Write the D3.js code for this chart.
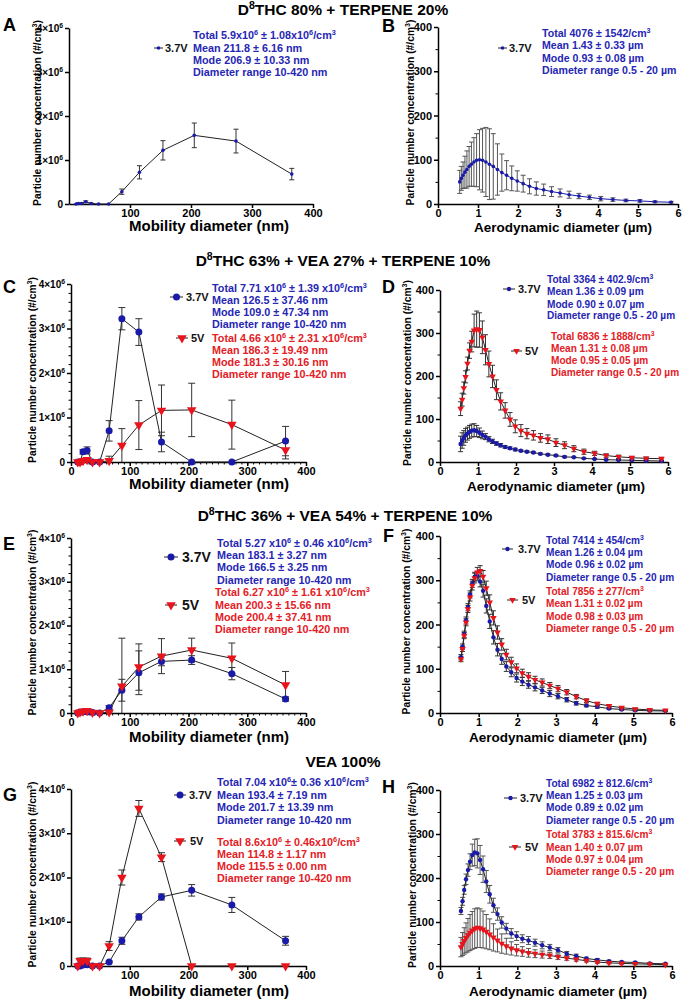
<!DOCTYPE html>
<html><head><meta charset="utf-8">
<script src="https://cdn.jsdelivr.net/npm/d3@7"></script>
<style>
body{margin:0;background:#fff}
text{font-family:"Liberation Sans",Arial,sans-serif;font-weight:bold}
</style>
</head><body>
<svg id="c" width="683" height="1000"></svg>
<script>
// ---------- DATA ----------
const mobBins = [11.5, 15.4, 20.5, 27.4, 36.5, 48.7, 64.9, 86.6, 115.5, 154.0, 205.4, 273.8, 365.2]; // nm
const aeroBins = [0.542,0.583,0.626,0.673,0.723,0.777,0.835,0.898,0.965,1.037,1.114,1.197,1.286,1.382,1.486,1.596,1.715,1.843,1.981,2.129,2.288,2.458,2.642,2.839,3.051,3.278,3.523,3.786,4.068,4.371,4.698,5.048,5.425,5.829]; // µm

// mobility panels, values in 10^6 #/cm3
const aMean37 = [0,0.01,0.01,0.05,0.01,0,0,0.28,0.72,1.22,1.56,1.43,0.68];
const aSd37   = [0,0.01,0.01,0.02,0.01,0,0,0.06,0.15,0.22,0.28,0.27,0.13];
const cMean37 = [0,0,0.23,0.26,0,0,0.70,3.22,2.92,0.45,0,0,0.47];
const cSd37   = [0,0,0.05,0.08,0,0,0.23,0.25,0.30,0.22,0,0,0.33];
const cMean5  = [0,0,0.03,0.05,0,0,0.03,0.37,0.83,1.16,1.17,0.84,0.27];
const cSd5    = [0,0,0.02,0.03,0,0,0.10,0.38,0.55,0.57,0.60,0.55,0.20];
const eMean37 = [0,0.02,0.03,0.03,0.01,0,0.12,0.52,0.92,1.18,1.21,0.90,0.32];
const eSd37   = [0,0.01,0.02,0.02,0.01,0,0.05,0.25,0.50,0.10,0.10,0.14,0.05];
const eMean5  = [0,0.02,0.04,0.05,0.01,0,0.02,0.61,1.05,1.30,1.44,1.25,0.64];
const eSd5    = [0,0.01,0.03,0.04,0.01,0,0.02,1.10,0.53,0.40,0.27,0.35,0.31];
const gMean37 = [0,0,0.02,0.03,0,0,0.09,0.57,1.11,1.56,1.71,1.38,0.57];
const gSd37   = [0,0,0.01,0.02,0,0,0.02,0.08,0.07,0.07,0.13,0.17,0.10];
const gMean5  = [0,0.12,0.12,0.12,0,0,0.45,2.00,3.56,2.46,0,0,0];
const gSd5    = [0,0.06,0.06,0.06,0,0,0.10,0.17,0.18,0.10,0,0,0];

// aerodynamic panels, #/cm3
const bMean37 = [50,58,65,72,78,85,90,95,99,100,99,95,90,85,78,71,65,58,52,46,40,35,32,28,25,21,18,15,12,10,8,7,5,4];
const bSd37   = [26,27,30,36,42,45,50,55,60,68,72,78,80,74,58,42,33,28,23,19,17,15,13,11,9,8,6,5,5,4,3,3,2,2];
const dMean37 = [42,50,56,62,66,70,73,74,72,68,63,59,53,48,43,39,35,32,29,26,24,22,19,17,15,12,11,8.5,7,5.4,4.6,3.9,3,2.3];
const dSd37   = [18,18,17,16,15,15,15,15,13,11,9,7,6,5,4,4,3,3,3,2,2,2,2,2,2,2,1,1,1,1,1,1,1,1];
const dMean5  = [124,145,172,198,229,259,280,306,309,307,290,261,228,199,168,141,120,99,83,73,66,62,56,53,45,39,31,24,20,15,12,10,8.5,7.7];
const dSd5    = [16,15,14,14,15,18,24,38,42,40,38,35,30,26,23,20,18,16,15,14,12,11,10,10,9,8,7,6,5,4,4,3,3,3];
const fMean37 = [126,150,178,209,239,268,293,308,310,297,276,242,207,171,143,122,105,92,79,71,64,58,51,44,38,30,22,17,14,10,8,6,5,4.5];
const fSd37   = [6,6,7,8,8,8,9,10,10,12,14,16,16,15,14,12,11,10,9,9,8,8,7,7,6,5,4,3,3,2,2,2,1,1];
const fMean5  = [122,145,175,205,235,262,288,305,318,321,308,282,250,215,182,155,132,115,101,90,82,75,69,62,55,47,37,28,21,16,12,9,7,6];
const fSd5    = [6,6,7,8,8,9,10,11,11,12,14,16,17,16,15,13,12,11,10,9,9,8,8,7,7,6,5,4,3,3,2,2,1,1];
const hMean37 = [125,147,173,197,218,237,252,258,256,241,220,192,163,138,118,99,85,74,68,62,58,53,47,42,36,28,23,17,14,11,9,8,6,5];
const hSd37   = [8,9,10,12,14,18,25,30,33,33,30,25,20,16,14,13,12,11,10,9,9,8,8,7,6,5,4,3,3,2,2,2,1,1];
const hMean5  = [43,50,57,64,70,76,81,85,87,86,83,78,72,65,58,51,45,40,36,33,30,28,26,24,21,18,15,12,9,7,6,5,4,3];
const hSd5    = [22,26,30,34,38,41,43,45,45,44,42,39,35,31,26,22,18,15,13,11,10,9,8,7,6,5,4,3,3,2,2,2,1,1];

// tick values
const mobTicksA = [100,200,300,400];
const mobTicksC = [0,100,200,300,400];
const mobYTicks = [0,1,2,3,4];
const aeroXTicks = [0,1,2,3,4,5,6];
const aeroYTicks = [0,100,200,300,400];

// texts
const titles = ["D^{8}THC 80% + TERPENE 20%","D^{8}THC 63% + VEA 27% + TERPENE 10%","D^{8}THC 36% + VEA 54% + TERPENE 10%","VEA 100%"];
const yLabel = "Particle number concentration (#/cm^{3})";
const xLabelMob = "Mobility diameter (nm)";
const xLabelAero = "Aerodynamic diameter (µm)";
const legA37 = ["Total 5.9x10^{6} ± 1.08x10^{6}/cm^{3}","Mean 211.8 ± 6.16 nm","Mode 206.9 ± 10.33 nm","Diameter range 10-420 nm"];
const legB37 = ["Total 4076 ± 1542/cm^{3}","Mean 1.43 ± 0.33 µm","Mode 0.93 ± 0.08 µm","Diameter range 0.5 - 20 µm"];
const legC37 = ["Total 7.71 x10^{6} ± 1.39 x10^{6}/cm^{3}","Mean 126.5 ± 37.46 nm","Mode 109.0 ± 47.34 nm","Diameter range 10-420 nm"];
const legC5  = ["Total 4.66 x10^{6} ± 2.31 x10^{6}/cm^{3}","Mean 186.3 ± 19.49 nm","Mode 181.3 ± 30.16 nm","Diameter range 10-420 nm"];
const legD37 = ["Total 3364 ± 402.9/cm^{3}","Mean 1.36 ± 0.09 µm","Mode 0.90 ± 0.07 µm","Diameter range 0.5 - 20 µm"];
const legD5  = ["Total 6836 ± 1888/cm^{3}","Mean 1.31 ± 0.08 µm","Mode 0.95 ± 0.05 µm","Diameter range 0.5 - 20 µm"];
const legE37 = ["Total 5.27 x10^{6} ± 0.46 x10^{6}/cm^{3}","Mean 183.1 ± 3.27 nm","Mode 166.5 ± 3.25 nm","Diameter range 10-420 nm"];
const legE5  = ["Total 6.27 x10^{6} ± 1.61 x10^{6}/cm^{3}","Mean 200.3 ± 15.66 nm","Mode 200.4 ± 37.41 nm","Diameter range 10-420 nm"];
const legF37 = ["Total 7414 ± 454/cm^{3}","Mean 1.26 ± 0.04 µm","Mode 0.96 ± 0.02 µm","Diameter range 0.5 - 20 µm"];
const legF5  = ["Total 7856 ± 277/cm^{3}","Mean 1.31 ± 0.02 µm","Mode 0.98 ± 0.03 µm","Diameter range 0.5 - 20 µm"];
const legG37 = ["Total 7.04 x10^{6}± 0.36 x10^{6}/cm^{3}","Mean 193.4 ± 7.19 nm","Mode 201.7 ± 13.39 nm","Diameter range 10-420 nm"];
const legG5  = ["Total 8.6x10^{6} ± 0.46x10^{6}/cm^{3}","Mean 114.8 ± 1.17 nm","Mode 115.5 ± 0.00 nm","Diameter range 10-420 nm"];
const legH37 = ["Total 6982 ± 812.6/cm^{3}","Mean 1.25 ± 0.03 µm","Mode 0.89 ± 0.02 µm","Diameter range 0.5 - 20 µm"];
const legH5  = ["Total 3783 ± 815.6/cm^{3}","Mean 1.40 ± 0.07 µm","Mode 0.97 ± 0.04 µm","Diameter range 0.5 - 20 µm"];

// ---------- STYLE ----------
const COL = {blue:"#1a1aa8", red:"#e8141c"};
const TXT = {blue:"#2626b4", red:"#e42026"};
const svg = d3.select("#c");

function addRich(sel, str, fs) {
  const re = /\^\{([^}]*)\}/g;
  let last = 0, m, down = false;
  const sh = fs * 0.38;
  while ((m = re.exec(str))) {
    if (m.index > last) {
      const t = sel.append("tspan").text(str.slice(last, m.index));
      if (down) { t.attr("dy", sh); down = false; }
    }
    const s = sel.append("tspan").attr("font-size", fs * 0.68).text(m[1]);
    s.attr("dy", down ? 0 : -sh);
    down = true; last = re.lastIndex;
  }
  if (last < str.length) {
    const t = sel.append("tspan").text(str.slice(last));
    if (down) t.attr("dy", sh);
  }
}

function txt(x, y, str, fs, opts = {}) {
  const t = svg.append("text").attr("x", x).attr("y", y).attr("font-size", fs)
    .attr("fill", opts.fill || "#000").attr("text-anchor", opts.anchor || "start");
  if (opts.rotate) t.attr("transform", `rotate(-90,${x},${y})`);
  addRich(t, str, fs);
  return t;
}

function marker(g, shape, cx, cy, r, color) {
  if (shape === "circle") {
    g.append("circle").attr("cx", cx).attr("cy", cy).attr("r", r).attr("fill", color);
  } else {
    g.append("path").attr("d", d3.symbol().type(d3.symbolTriangle).size(r * r * 3.2)())
      .attr("transform", `translate(${cx},${cy}) rotate(180)`).attr("fill", color);
  }
}

function panel(p) {
  const g = svg.append("g");
  const mob = p.kind === "mob";
  const x = d3.scaleLinear().domain(mob ? [0, 400] : [0, 6]).range([p.x0, p.x1]);
  const y = d3.scaleLinear().domain(mob ? [0, 4] : [0, 400]).range([p.yBot, p.yTop]);

  if (p.minorX) {
    g.append("g").attr("transform", `translate(0,${p.yBot})`)
      .call(d3.axisBottom(x).tickValues(d3.range(0, 401, 10)).tickSize(2.5).tickFormat(""))
      .call(a => a.select(".domain").remove())
      .call(a => a.selectAll("line").attr("stroke-width", 1));
  }
  if (p.minorY) {
    g.append("g").attr("transform", `translate(${p.x0},0)`)
      .call(d3.axisLeft(y).tickValues(p.minorY).tickSize(2.5).tickFormat(""))
      .call(a => a.select(".domain").remove())
      .call(a => a.selectAll("line").attr("stroke-width", 1));
  }
  const xa = g.append("g").attr("transform", `translate(0,${p.yBot})`)
    .call(d3.axisBottom(x).tickValues(p.xTicks).tickFormat(d3.format("d")).tickSize(4).tickSizeOuter(0).tickPadding(1));
  xa.selectAll("text").attr("font-size", p.xtfs).attr("fill", "#000")
    .style("font-family", '"Liberation Sans",Arial,sans-serif').style("font-weight", "bold");
  const ya = g.append("g").attr("transform", `translate(${p.x0},0)`)
    .call(d3.axisLeft(y).tickValues(mob ? mobYTicks : aeroYTicks).tickFormat(d3.format("d")).tickSize(4).tickSizeOuter(0).tickPadding(2));
  ya.selectAll("text").attr("font-size", p.ytfs).attr("fill", "#000")
    .style("font-family", '"Liberation Sans",Arial,sans-serif').style("font-weight", "bold")
    .each(function (d) {
      if (mob) {
        const t = d3.select(this); t.text(null);
        addRich(t, d === 0 ? "0" : d + "×10^{6}", p.ytfs);
      }
    });
  [xa, ya].forEach(a => {
    a.select(".domain").attr("stroke", "#000").attr("stroke-width", 1.5);
    a.selectAll(".tick line").attr("stroke", "#000").attr("stroke-width", 1.5);
  });

  const maxV = mob ? 4 : 400;
  p.series.forEach(s => {
    s.m.forEach((mv, i) => {
      const sd = s.sd[i];
      if (!sd) return;
      const xv = x(s.xs[i]);
      const hi = Math.min(maxV, mv + sd), lo = Math.max(0, mv - sd);
      g.append("line").attr("x1", xv).attr("x2", xv).attr("y1", y(lo)).attr("y2", y(hi))
        .attr("stroke", p.ebc || "#333").attr("stroke-width", 1);
      g.append("line").attr("x1", xv - p.cap).attr("x2", xv + p.cap).attr("y1", y(hi)).attr("y2", y(hi))
        .attr("stroke", p.ebc || "#333").attr("stroke-width", 1);
      if (mv - sd >= 0)
        g.append("line").attr("x1", xv - p.cap).attr("x2", xv + p.cap).attr("y1", y(lo)).attr("y2", y(lo))
          .attr("stroke", p.ebc || "#333").attr("stroke-width", 1);
    });
  });
  p.series.forEach(s => {
    const line = d3.line().x((d, i) => x(s.xs[i])).y(d => y(d));
    g.append("path").attr("d", line(s.m)).attr("fill", "none")
      .attr("stroke", s.lc || "#222").attr("stroke-width", 1);
  });
  p.series.forEach(s => {
    s.m.forEach((mv, i) => marker(g, s.shape, x(s.xs[i]), y(mv), s.r, COL[s.c]));
  });

  txt(p.letter[0], p.letter[1], p.id, 18);
  const yc = (p.yTop + p.yBot) / 2 - 3;
  txt(p.ylab, yc, yLabel, 10.3, {anchor: "middle", rotate: true});
  txt(p.xlab[0], p.xlab[1], mob ? xLabelMob : xLabelAero, p.xlfs, {anchor: "middle"});

  p.series.forEach(s => {
    const L = s.leg;
    g.append("line").attr("x1", L.sym[0]).attr("x2", L.sym[1]).attr("y1", L.sym[2]).attr("y2", L.sym[2])
      .attr("stroke", "#222").attr("stroke-width", 1);
    marker(g, s.shape, (L.sym[0] + L.sym[1]) / 2, L.sym[2], s.r, COL[s.c]);
    txt(L.lab[0], L.lab[1], L.lab[2], L.lab[3], {fill: "#111"});
    s.lines.forEach((str, k) => txt(L.tx, L.ty[k], str, p.lfs, {fill: TXT[s.c]}));
  });
}

txt(343, 15, titles[0], 15.5, {anchor: "middle"});
txt(343, 266, titles[1], 15.5, {anchor: "middle"});
txt(345, 521, titles[2], 15.5, {anchor: "middle"});
txt(343, 767, titles[3], 15.5, {anchor: "middle"});

const minorMobY = d3.range(0.2, 4, 0.2).filter(v => Math.abs(v - Math.round(v)) > 0.01);
const minorAeroY = [50,150,250,350];

const panels = [
  {id:"A", kind:"mob", x0:69, x1:313, yTop:28, yBot:204, xTicks:mobTicksA, xtfs:11, ytfs:10, lfs:10.8,
   letter:[3,31], ylab:40.5, xlab:[209,231], xlfs:15, cap:2.5,
   series:[{xs:mobBins, m:aMean37, sd:aSd37, c:"blue", shape:"circle", r:1.8, lines:legA37,
     leg:{sym:[154,163,48], lab:[165,52,"3.7V",11], tx:193, ty:[39,52,64,76]}}]},
  {id:"B", kind:"aero", x0:438, x1:678, yTop:27, yBot:204, xTicks:aeroXTicks, xtfs:11, ytfs:11, minorY:minorAeroY, lfs:10.6,
   letter:[382,32], ylab:413.5, xlab:[563,232], xlfs:13.5, cap:2.5, ebc:"#555",
   series:[{xs:aeroBins, m:bMean37, sd:bSd37, c:"blue", shape:"circle", r:1.8, lc:"#1a1aa8", lines:legB37,
     leg:{sym:[498,507,48], lab:[509,52,"3.7V",11], tx:542, ty:[37,49,62,74]}}]},
  {id:"C", kind:"mob", x0:71, x1:306, yTop:284, yBot:462, xTicks:mobTicksC, xtfs:11, ytfs:10, minorX:true, minorY:minorMobY, lfs:10.8,
   letter:[3,293], ylab:35.5, xlab:[209,489], xlfs:15, cap:3.5,
   series:[
    {xs:mobBins, m:cMean37, sd:cSd37, c:"blue", shape:"circle", r:3.5, lines:legC37,
     leg:{sym:[170,183,297], lab:[186,301,"3.7V",11], tx:212, ty:[292,304,316,328]}},
    {xs:mobBins, m:cMean5, sd:cSd5, c:"red", shape:"tri", r:3.5, lines:legC5,
     leg:{sym:[176,188,338], lab:[191,342,"5V",11], tx:212, ty:[342,354,366,378]}}]},
  {id:"D", kind:"aero", x0:440, x1:668, yTop:290, yBot:462, xTicks:aeroXTicks, xtfs:11, ytfs:11, minorY:minorAeroY, lfs:10.1,
   letter:[382,293], ylab:410.5, xlab:[556,491], xlfs:13.5, cap:2.5,
   series:[
    {xs:aeroBins, m:dMean37, sd:dSd37, c:"blue", shape:"circle", r:2.2, lines:legD37,
     leg:{sym:[503,515,289], lab:[518,293,"3.7V",11], tx:547, ty:[283,295,307.5,319]}},
    {xs:aeroBins, m:dMean5, sd:dSd5, c:"red", shape:"tri", r:2.4, lines:legD5,
     leg:{sym:[511,522,351], lab:[525,355,"5V",11], tx:551, ty:[340,352,364,376]}}]},
  {id:"E", kind:"mob", x0:71, x1:306, yTop:538, yBot:713, xTicks:mobTicksC, xtfs:11, ytfs:10, minorX:true, minorY:minorMobY, lfs:10.8,
   letter:[3,550], ylab:35.5, xlab:[209,742], xlfs:15, cap:3.5,
   series:[
    {xs:mobBins, m:eMean37, sd:eSd37, c:"blue", shape:"circle", r:3.5, lines:legE37,
     leg:{sym:[164,178,557], lab:[182,562,"3.7V",14], tx:217, ty:[547,559,571,584]}},
    {xs:mobBins, m:eMean5, sd:eSd5, c:"red", shape:"tri", r:3.5, lines:legE5,
     leg:{sym:[165,177,605], lab:[182,610,"5V",14], tx:215, ty:[596,609,621,633]}}]},
  {id:"F", kind:"aero", x0:440, x1:672, yTop:536, yBot:713, xTicks:aeroXTicks, xtfs:11, ytfs:11, minorY:minorAeroY, lfs:10.1,
   letter:[383,542], ylab:409.5, xlab:[558,742], xlfs:13.5, cap:2.5,
   series:[
    {xs:aeroBins, m:fMean37, sd:fSd37, c:"blue", shape:"circle", r:2.2, lines:legF37,
     leg:{sym:[502,513,549], lab:[518,553,"3.7V",11], tx:546, ty:[544,556,568,581]}},
    {xs:aeroBins, m:fMean5, sd:fSd5, c:"red", shape:"tri", r:2.4, lines:legF5,
     leg:{sym:[507,518,600], lab:[522,604,"5V",11], tx:546, ty:[595,607,620,632]}}]},
  {id:"G", kind:"mob", x0:71, x1:306, yTop:789, yBot:966, xTicks:mobTicksA, xtfs:11, ytfs:10, lfs:10.8,
   letter:[3,801], ylab:35.5, xlab:[209,996], xlfs:15, cap:3.5,
   series:[
    {xs:mobBins, m:gMean37, sd:gSd37, c:"blue", shape:"circle", r:3.5, lines:legG37,
     leg:{sym:[174,186,795], lab:[189,799,"3.7V",11], tx:217, ty:[786,799,811,824]}},
    {xs:mobBins, m:gMean5, sd:gSd5, c:"red", shape:"tri", r:3.5, lines:legG5,
     leg:{sym:[174,186,841], lab:[190,845,"5V",11], tx:217, ty:[846,858,870,882]}}]},
  {id:"H", kind:"aero", x0:440, x1:672, yTop:790, yBot:966, xTicks:aeroXTicks, xtfs:11, ytfs:11, minorY:minorAeroY, lfs:10.1,
   letter:[382,793], ylab:415.5, xlab:[558,996], xlfs:13.5, cap:2.5, ebc:"#555",
   series:[
    {xs:aeroBins, m:hMean37, sd:hSd37, c:"blue", shape:"circle", r:2.2, lines:legH37,
     leg:{sym:[504,517,798], lab:[520,802,"3.7V",11], tx:546, ty:[787,799,811,824]}},
    {xs:aeroBins, m:hMean5, sd:hSd5, c:"red", shape:"tri", r:2.4, lines:legH5,
     leg:{sym:[509,521,847], lab:[525,851,"5V",11], tx:546, ty:[838,851,863,875]}}]}
];
panels.forEach(panel);
</script>
</body></html>
